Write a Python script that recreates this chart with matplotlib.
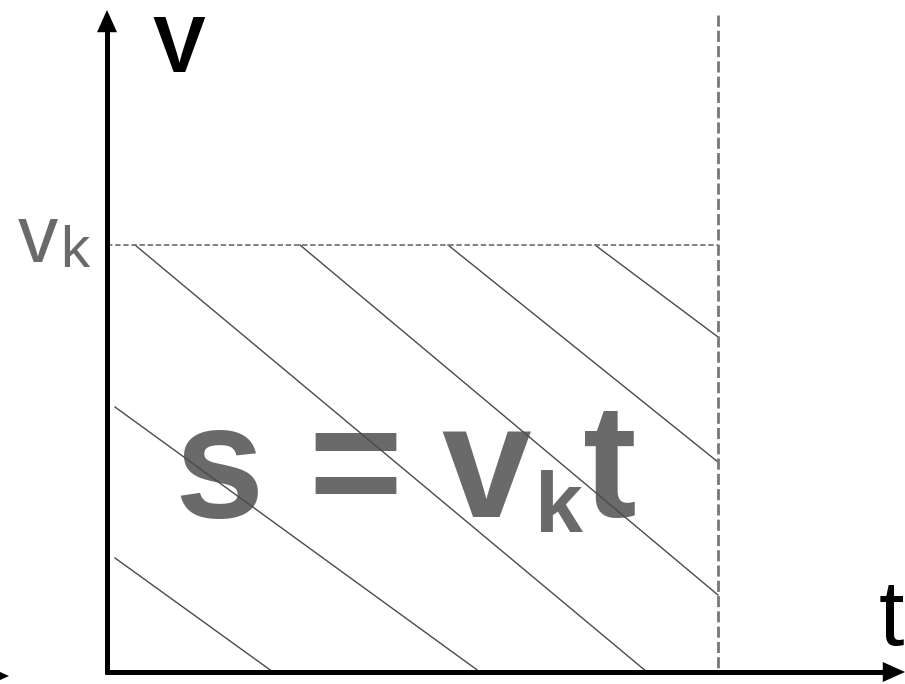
import matplotlib.pyplot as plt
from matplotlib.patches import FancyArrowPatch

# geometry (pixel coords, y down)
origin = (107, 672)
v_k = 245          # level of the constant speed
t_end = 718        # end time
x_max, y_top = 905, 10

# hatch lines: start and end points
hatch_x0 = [115, 115, 135, 300, 448, 595]
hatch_y0 = [558, 407, 245, 245, 245, 245]
hatch_x1 = [273, 480, 647, 718, 718, 718]
hatch_y1 = [672, 672, 672, 595, 462, 337]

grey = "#6a6a6a"
plt.rcParams["font.family"] = ["Liberation Sans", "DejaVu Sans"]

fig = plt.figure(figsize=(9.05, 6.84), dpi=100)
ax = fig.add_axes([0, 0, 1, 1])
ax.set_xlim(0, 905)
ax.set_ylim(684, 0)
ax.axis("off")

# big formula (under the hatch)
big = dict(fontsize=116, fontweight="bold", color=grey, va="baseline", ha="left", zorder=1)
ax.text(174, 517, "s", **big)
ax.text(308, 517, "=", **big)
ax.text(441, 517, "v", **big)
ax.text(535, 532, "k", fontsize=62, fontweight="bold", color=grey, va="baseline", ha="left", zorder=1)
ax.text(583, 517, "t", **big)

# hatching
for x0, y0, x1, y1 in zip(hatch_x0, hatch_y0, hatch_x1, hatch_y1):
    ax.plot([x0, x1], [y0, y1], color="#4a4a4a", lw=1.0, zorder=2)

# dashed guides
ax.plot([origin[0], t_end], [v_k, v_k], color="#777777", lw=1.3, ls=(0, (3, 1.5)), zorder=2)
ax.plot([t_end, t_end], [15, origin[1]], color="#777777", lw=2.0, ls=(0, (4, 1.5)), zorder=2)

# axes: thick lines plus filled heads
ax.plot([origin[0], origin[0]], [origin[1] + 2, y_top + 15], color="black", lw=3.6,
        solid_capstyle="butt", zorder=3)
ax.plot([origin[0] - 2, x_max - 15], [origin[1], origin[1]], color="black", lw=3.6,
        solid_capstyle="butt", zorder=3)
head = "-|>,head_length=1.6,head_width=0.72"
ax.add_patch(FancyArrowPatch((origin[0], y_top + 40), (origin[0], y_top), arrowstyle=head,
                             mutation_scale=10, lw=0, color="black", zorder=3,
                             shrinkA=0, shrinkB=0))
ax.add_patch(FancyArrowPatch((x_max - 40, origin[1]), (x_max, origin[1]), arrowstyle=head,
                             mutation_scale=10, lw=0, color="black", zorder=3,
                             shrinkA=0, shrinkB=0))
# clipped arrow tip at the far left edge
ax.add_patch(FancyArrowPatch((-30, 676), (9, 676), arrowstyle=head,
                             mutation_scale=8, lw=0, color="black", zorder=3,
                             shrinkA=0, shrinkB=0))

# labels
ax.text(152, 72, "V", fontsize=57, fontweight="bold", color="black", va="baseline", ha="left")
ax.text(18, 262, "v", fontsize=58, color=grey, va="baseline", ha="left")
ax.text(60, 267, "k", fontsize=42, color=grey, va="baseline", ha="left")
ax.text(879, 645, "t", fontsize=66, color="black", va="baseline", ha="left")

fig.savefig("out.png", dpi=100)
